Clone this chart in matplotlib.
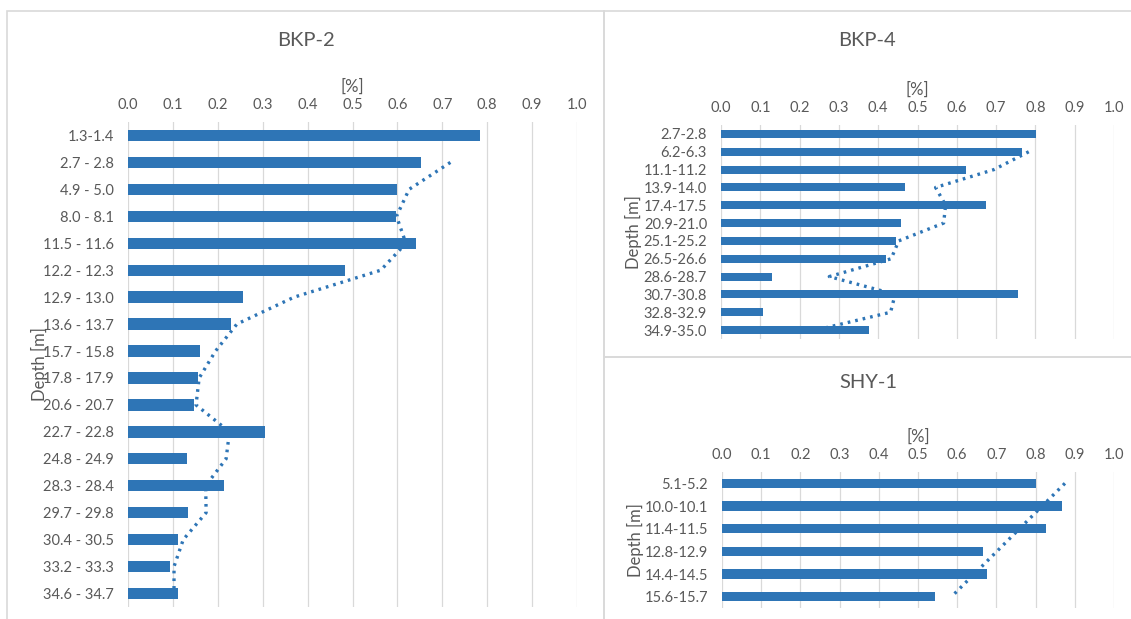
import numpy as np
import matplotlib
matplotlib.use("Agg")
import matplotlib.pyplot as plt
from matplotlib.patches import Rectangle

plt.rcParams['font.family'] = ['Lato', 'DejaVu Sans']

# ---- data ----
bkp2_labels = ["1.3-1.4", "2.7 - 2.8", "4.9 - 5.0", "8.0 - 8.1", "11.5 - 11.6", "12.2 - 12.3",
               "12.9 - 13.0", "13.6 - 13.7", "15.7 - 15.8", "17.8 - 17.9", "20.6 - 20.7",
               "22.7 - 22.8", "24.8 - 24.9", "28.3 - 28.4", "29.7 - 29.8", "30.4 - 30.5",
               "33.2 - 33.3", "34.6 - 34.7"]
bkp2_values = [0.784, 0.652, 0.600, 0.596, 0.642, 0.484, 0.256, 0.229, 0.161, 0.156,
               0.147, 0.305, 0.132, 0.214, 0.134, 0.112, 0.093, 0.112]

bkp4_labels = ["2.7-2.8", "6.2-6.3", "11.1-11.2", "13.9-14.0", "17.4-17.5", "20.9-21.0",
               "25.1-25.2", "26.5-26.6", "28.6-28.7", "30.7-30.8", "32.8-32.9", "34.9-35.0"]
bkp4_values = [0.801, 0.765, 0.624, 0.468, 0.675, 0.458, 0.446, 0.420, 0.131, 0.755, 0.108, 0.376]

shy1_labels = ["5.1-5.2", "10.0-10.1", "11.4-11.5", "12.8-12.9", "14.4-14.5", "15.6-15.7"]
shy1_values = [0.802, 0.867, 0.827, 0.665, 0.676, 0.544]

xticks = [0.0, 0.1, 0.2, 0.3, 0.4, 0.5, 0.6, 0.7, 0.8, 0.9, 1.0]

BAR = '#2E75B6'
TXT = '#595959'
GRID = '#D9D9D9'

W, H = 1131, 619
fig = plt.figure(figsize=(W / 100, H / 100), dpi=100)


def px_axes(left, top, right, bottom):
    return fig.add_axes([left / W, 1 - bottom / H, (right - left) / W, (bottom - top) / H])


def panel(ax, labels, values, trend, bar_h, ylab_x, title_xy, title):
    n = len(labels)
    pos = np.arange(n)
    ax.barh(pos, values, height=bar_h, color=BAR, zorder=2)
    t_pos, t_val = trend
    ax.plot(t_val, t_pos, color=BAR, lw=2.4, linestyle=(0, (0.8, 1.5)),
            dash_capstyle='butt', zorder=3)
    ax.set_xlim(0, 1.0)
    ax.set_ylim(n - 0.5, -0.5)
    ax.set_xticks(xticks)
    ax.set_xticklabels([f"{v:.1f}" for v in xticks])
    ax.set_yticks(pos)
    ax.set_yticklabels(labels)
    ax.xaxis.tick_top()
    ax.xaxis.set_label_position('top')
    ax.tick_params(axis='x', length=0, pad=7, labelsize=10.5, labelcolor=TXT)
    ax.tick_params(axis='y', length=0, pad=10, labelsize=10.5, labelcolor=TXT)
    ax.grid(axis='x', color=GRID, lw=0.9, zorder=0)
    ax.set_axisbelow(True)
    for s in ax.spines.values():
        s.set_visible(False)
    ax.set_xlabel('[%]', fontsize=12, color=TXT, labelpad=5)
    ax.set_ylabel('Depth [m]', fontsize=12, color=TXT)
    ax.yaxis.set_label_coords(ylab_x, 0.5)
    fig.text(title_xy[0] / W, 1 - title_xy[1] / H, title, ha='center', va='center',
             fontsize=14.5, color=TXT)


def moving_avg(values):
    v = np.asarray(values)
    return np.arange(1, len(v)), (v[1:] + v[:-1]) / 2


# panel borders
for (l, t, r, b) in [(7, 11, 604, 625), (604, 11, 1135, 357), (604, 357, 1135, 625)]:
    fig.patches.append(Rectangle((l / W, 1 - b / H), (r - l) / W, (b - t) / H,
                                 transform=fig.transFigure, fill=False, ec=GRID, lw=1.2))

ax1 = px_axes(128, 122, 577, 607)
panel(ax1, bkp2_labels, bkp2_values, moving_avg(bkp2_values), 0.42, -0.178, (306, 40), 'BKP-2')

ax2 = px_axes(721, 125, 1114, 339)
panel(ax2, bkp4_labels, bkp4_values, moving_avg(bkp4_values), 0.45, -0.2, (867, 40), 'BKP-4')

idx = np.arange(len(shy1_values))
coef = np.polyfit(idx, shy1_values, 1)
ax3 = px_axes(722, 472, 1114, 608)
panel(ax3, shy1_labels, shy1_values, (idx, np.polyval(coef, idx)), 0.42, -0.2, (868, 382), 'SHY-1')

fig.savefig('out.png', dpi=100)
